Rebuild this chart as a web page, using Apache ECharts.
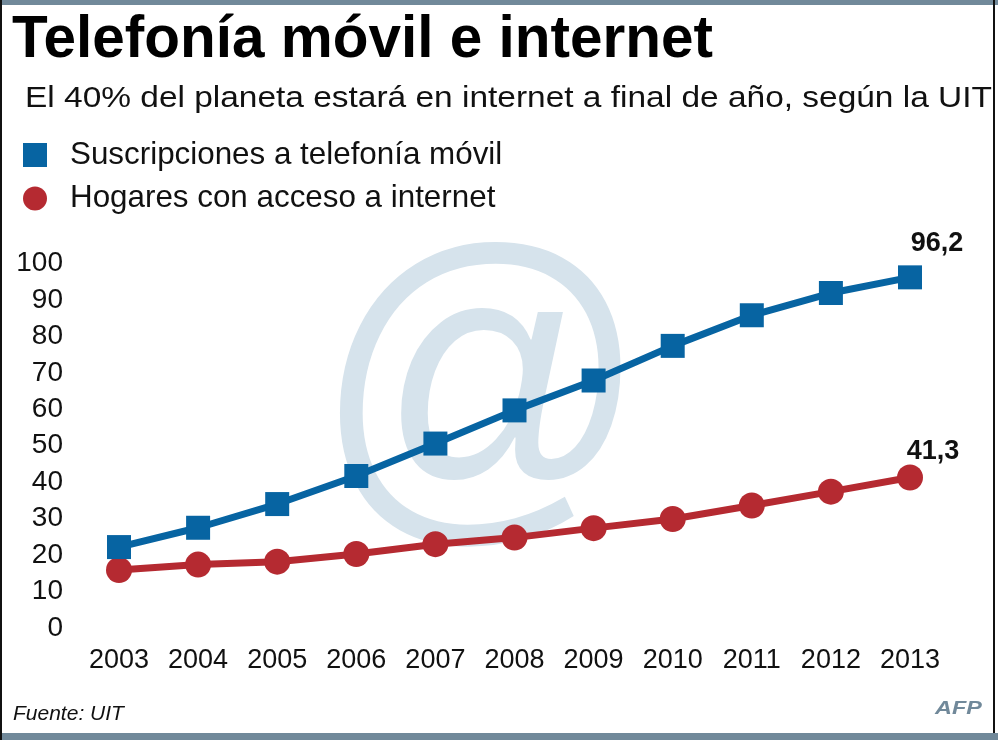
<!DOCTYPE html>
<html>
<head>
<meta charset="utf-8">
<title>Telefonía móvil e internet</title>
<script src="https://cdn.jsdelivr.net/npm/echarts@6/dist/echarts.min.js"></script>
<style>
  html, body { margin: 0; padding: 0; background: #fff; }
  #chart { width: 998px; height: 740px; }
</style>
</head>
<body>
<div id="chart"></div>
<script>
// datos (UIT, por cada 100 habitantes / % de hogares)
var years = ['2003', '2004', '2005', '2006', '2007', '2008', '2009', '2010', '2011', '2012', '2013'];
var movil = [22.2, 27.5, 34.0, 41.7, 50.6, 59.7, 67.9, 77.4, 85.8, 91.9, 96.2];
var hogares = [15.9, 17.4, 18.2, 20.3, 23.0, 24.8, 27.4, 29.9, 33.6, 37.4, 41.3];
var yTicks = [0, 10, 20, 30, 40, 50, 60, 70, 80, 90, 100];

var FONT = '"Liberation Sans", Arial, Helvetica, sans-serif';
var AZUL = '#0764a2';
var ROJO = '#b52a31';
var FONDO_AT = '#d6e3ec';
var GRIS = '#71899a';

var chart = echarts.init(document.getElementById('chart'));

// etiqueta sólo en el último punto de cada serie
function conUltimaEtiqueta(valores, desplazamiento) {
    return valores.map(function (v, i) {
        if (i !== valores.length - 1) return v;
        return {
            value: v,
            label: {
                show: true,
                position: 'top',
                distance: 8,
                offset: desplazamiento,
                fontFamily: FONT,
                fontSize: 27,
                fontWeight: 'bold',
                color: '#111',
                formatter: function (p) { return String(p.value).replace('.', ','); }
            }
        };
    });
}

// texto suelto, centrado verticalmente en y
function texto(x, y, cadena, size, extra, sx) {
    var st = { text: cadena, fontFamily: FONT, fontSize: size, fill: '#111', verticalAlign: 'middle' };
    for (var k in extra) st[k] = extra[k];
    return { type: 'text', x: x, y: y, scaleX: sx || 1, style: st };
}

var option = {
    backgroundColor: '#ffffff',
    animation: false,
    grid: { left: 119, right: 88, top: 263.5, bottom: 112 },
    graphic: [
        // marco
        { type: 'rect', shape: { x: 0, y: 0, width: 998, height: 5 }, style: { fill: GRIS }, z: 1 },
        { type: 'rect', shape: { x: 0, y: 733, width: 998, height: 7 }, style: { fill: GRIS }, z: 1 },
        { type: 'rect', shape: { x: 0, y: 0, width: 2, height: 740 }, style: { fill: '#111' }, z: 1 },
        { type: 'rect', shape: { x: 993, y: 0, width: 2, height: 733 }, style: { fill: '#111' }, z: 1 },
        // arroba de fondo
        {
            type: 'text', x: 314, y: 224, scaleY: 1.07, z: -10, silent: true,
            style: { text: '@', fontFamily: FONT, fontSize: 330, fill: FONDO_AT }
        },
        // títulos
        texto(12, 40, 'Telefonía móvil e internet', 60, { fontWeight: 'bold', fill: '#000' }, 0.975),
        texto(25, 99, 'El 40% del planeta estará en internet a final de año, según la UIT', 30, {}, 1.115),
        // leyenda
        { type: 'rect', shape: { x: 23, y: 143, width: 24, height: 24 }, style: { fill: AZUL } },
        texto(70, 155, 'Suscripciones a telefonía móvil', 32, {}, 0.98),
        { type: 'circle', shape: { cx: 35, cy: 198.5, r: 12 }, style: { fill: ROJO } },
        texto(70, 198, 'Hogares con acceso a internet', 32, {}, 0.98),
        // pie
        texto(13, 714, 'Fuente: UIT', 21, { fontStyle: 'italic' }),
        texto(935, 709, 'AFP', 18, { fontStyle: 'italic', fontWeight: 900, fill: GRIS }, 1.3)
    ],
    xAxis: {
        type: 'category',
        data: years,
        boundaryGap: false,
        axisLine: { show: false },
        axisTick: { show: false },
        splitLine: { show: false },
        axisLabel: { margin: 19, fontFamily: FONT, fontSize: 27, color: '#111' }
    },
    yAxis: {
        type: 'value',
        min: yTicks[0],
        max: yTicks[yTicks.length - 1],
        interval: 10,
        axisLine: { show: false },
        axisTick: { show: false },
        splitLine: { show: false },
        axisLabel: { margin: 56, fontFamily: FONT, fontSize: 28, color: '#111' }
    },
    series: [
        {
            name: 'Suscripciones a telefonía móvil',
            type: 'line',
            data: conUltimaEtiqueta(movil, [27, 0]),
            symbol: 'rect',
            symbolSize: 24,
            lineStyle: { color: AZUL, width: 7 },
            itemStyle: { color: AZUL },
            z: 3
        },
        {
            name: 'Hogares con acceso a internet',
            type: 'line',
            data: conUltimaEtiqueta(hogares, [23, 9]),
            symbol: 'circle',
            symbolSize: 26,
            lineStyle: { color: ROJO, width: 7 },
            itemStyle: { color: ROJO },
            z: 2
        }
    ]
};

chart.setOption(option);
</script>
</body>
</html>
